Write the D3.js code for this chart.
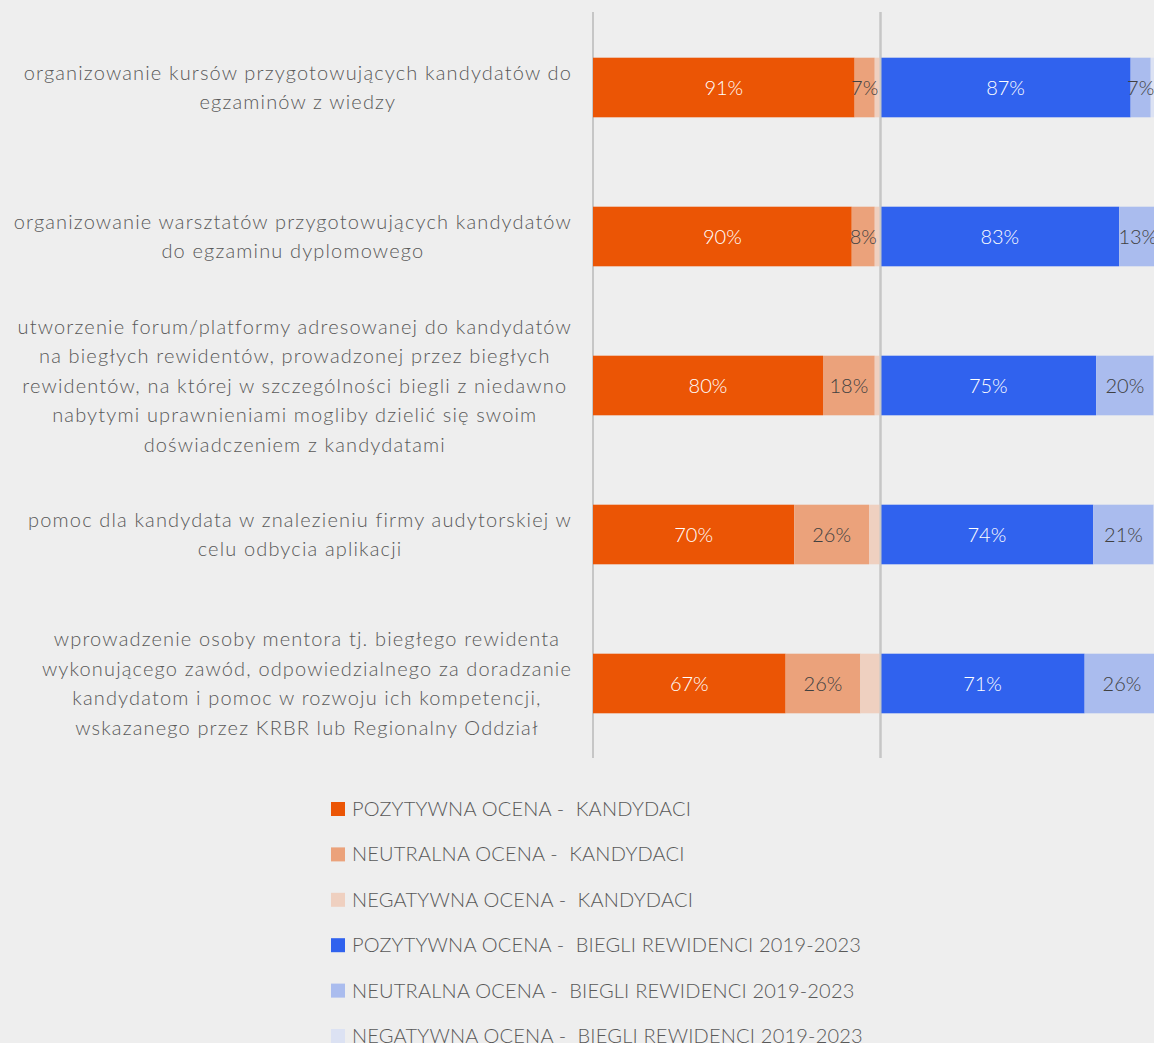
<!DOCTYPE html>
<html>
<head>
<meta charset="utf-8">
<script src="https://cdn.jsdelivr.net/npm/d3@7"></script>
<style>
  html, body { margin: 0; padding: 0; background: #eeeeee; }
  svg { display: block; }
  text { font-family: Lato, "Open Sans", sans-serif; font-weight: 300; }
</style>
</head>
<body>
<svg id="chart" width="1154" height="1043"></svg>
<script>
// ---- data ----
const categories = [
  ["organizowanie kursów przygotowujących kandydatów do", "egzaminów z wiedzy"],
  ["organizowanie warsztatów przygotowujących kandydatów", "do egzaminu dyplomowego"],
  ["utworzenie forum/platformy adresowanej do kandydatów", "na biegłych rewidentów, prowadzonej przez biegłych", "rewidentów, na której w szczególności biegli z niedawno", "nabytymi uprawnieniami mogliby dzielić się swoim", "doświadczeniem z kandydatami"],
  ["pomoc dla kandydata w znalezieniu firmy audytorskiej w", "celu odbycia aplikacji"],
  ["wprowadzenie osoby mentora tj. biegłego rewidenta", "wykonującego zawód, odpowiedzialnego za doradzanie", "kandydatom i pomoc w rozwoju ich kompetencji,", "wskazanego przez KRBR lub Regionalny Oddział"]
];
const candPositive = [91, 90, 80, 70, 67];
const candNeutral  = [7, 8, 18, 26, 26];
const candNegative = [2, 2, 2, 4, 7];
const audPositive  = [87, 83, 75, 74, 71];
const audNeutral   = [7, 13, 20, 21, 26];
const audNegative  = [6, 4, 5, 5, 3];
const seriesNames = [
  "POZYTYWNA OCENA -  KANDYDACI",
  "NEUTRALNA OCENA -  KANDYDACI",
  "NEGATYWNA OCENA -  KANDYDACI",
  "POZYTYWNA OCENA -  BIEGLI REWIDENCI 2019-2023",
  "NEUTRALNA OCENA -  BIEGLI REWIDENCI 2019-2023",
  "NEGATYWNA OCENA -  BIEGLI REWIDENCI 2019-2023"
];
const seriesColors = ["#eb5505", "#eba27b", "#efd0c0", "#3062ee", "#aabcee", "#dce2f3"];
const gridTicks = [0, 100, 200];

// ---- layout ----
const svg = d3.select("#chart");
const x = d3.scaleLinear().domain([0, 200]).range([593, 1168]);
const idx = categories.map((d, i) => i);
const y = d3.scaleBand().domain(idx).range([13, 758]).paddingInner(0.6).paddingOuter(0.3);

const seriesValues = [candPositive, candNeutral, candNegative, audPositive, audNeutral, audNegative];
// candidates stack from 0, auditors stack from 100
const segs = [];
idx.forEach(i => {
  let acc = 0;
  [0, 1, 2].forEach(s => { segs.push({i, s, x0: acc, x1: acc + seriesValues[s][i], v: seriesValues[s][i]}); acc += seriesValues[s][i]; });
  acc = 100;
  [3, 4, 5].forEach(s => { segs.push({i, s, x0: acc, x1: acc + seriesValues[s][i], v: seriesValues[s][i]}); acc += seriesValues[s][i]; });
});

// gridlines
svg.append("g").selectAll("line").data(gridTicks).join("line")
  .attr("x1", d => x(d)).attr("x2", d => x(d))
  .attr("y1", 12).attr("y2", 758)
  .attr("stroke", "#c6c6c6").attr("stroke-width", 2);

// bars
svg.append("g").selectAll("rect").data(segs).join("rect")
  .attr("x", d => x(d.x0))
  .attr("width", d => x(d.x1) - x(d.x0))
  .attr("y", d => y(d.i))
  .attr("height", y.bandwidth())
  .attr("fill", d => seriesColors[d.s]);

// center gridline drawn over the bars (as in reference)
svg.append("line")
  .attr("x1", x(100)).attr("x2", x(100)).attr("y1", 12).attr("y2", 758)
  .attr("stroke", "#c6c6c6").attr("stroke-width", 2);

// data labels (positive & neutral only)
svg.append("g").selectAll("text").data(segs.filter(d => d.s % 3 !== 2)).join("text")
  .attr("x", d => (x(d.x0) + x(d.x1)) / 2)
  .attr("y", d => y(d.i) + y.bandwidth() / 2)
  .attr("dy", "0.35em")
  .attr("text-anchor", "middle")
  .attr("font-size", 20)
  .attr("fill", d => d.s % 3 === 0 ? "#ffffff" : "#404040")
  .text(d => d.v + "%");

// category labels: wrapped text centered within block, block right-aligned
const lineH = 29.5;
const labG = svg.append("g");
categories.forEach((lines, i) => {
  const g = labG.append("g");
  const texts = g.selectAll("text").data(lines).join("text")
    .attr("font-size", 20)
    .attr("letter-spacing", 1.15)
    .attr("fill", "#595959")
    .attr("text-anchor", "middle")
    .attr("y", (d, k) => y(i) + y.bandwidth() / 2 + (k - (lines.length - 1) / 2) * lineH)
    .attr("dy", "0.35em")
    .text(d => d);
  let maxW = 0;
  texts.each(function() { maxW = Math.max(maxW, this.getComputedTextLength()); });
  texts.attr("x", 572 - maxW / 2);
});

// legend
const leg = svg.append("g").selectAll("g").data(seriesNames).join("g")
  .attr("transform", (d, k) => `translate(331, ${809 + k * 45.4})`);
leg.append("rect").attr("x", 0).attr("y", -7).attr("width", 14).attr("height", 14)
  .attr("fill", (d, k) => seriesColors[k]);
leg.append("text").attr("x", 21).attr("dy", "0.35em")
  .attr("font-size", 20).attr("fill", "#595959")
  .attr("letter-spacing", 0.2)
  .style("white-space", "pre")
  .text(d => d);
</script>
</body>
</html>
